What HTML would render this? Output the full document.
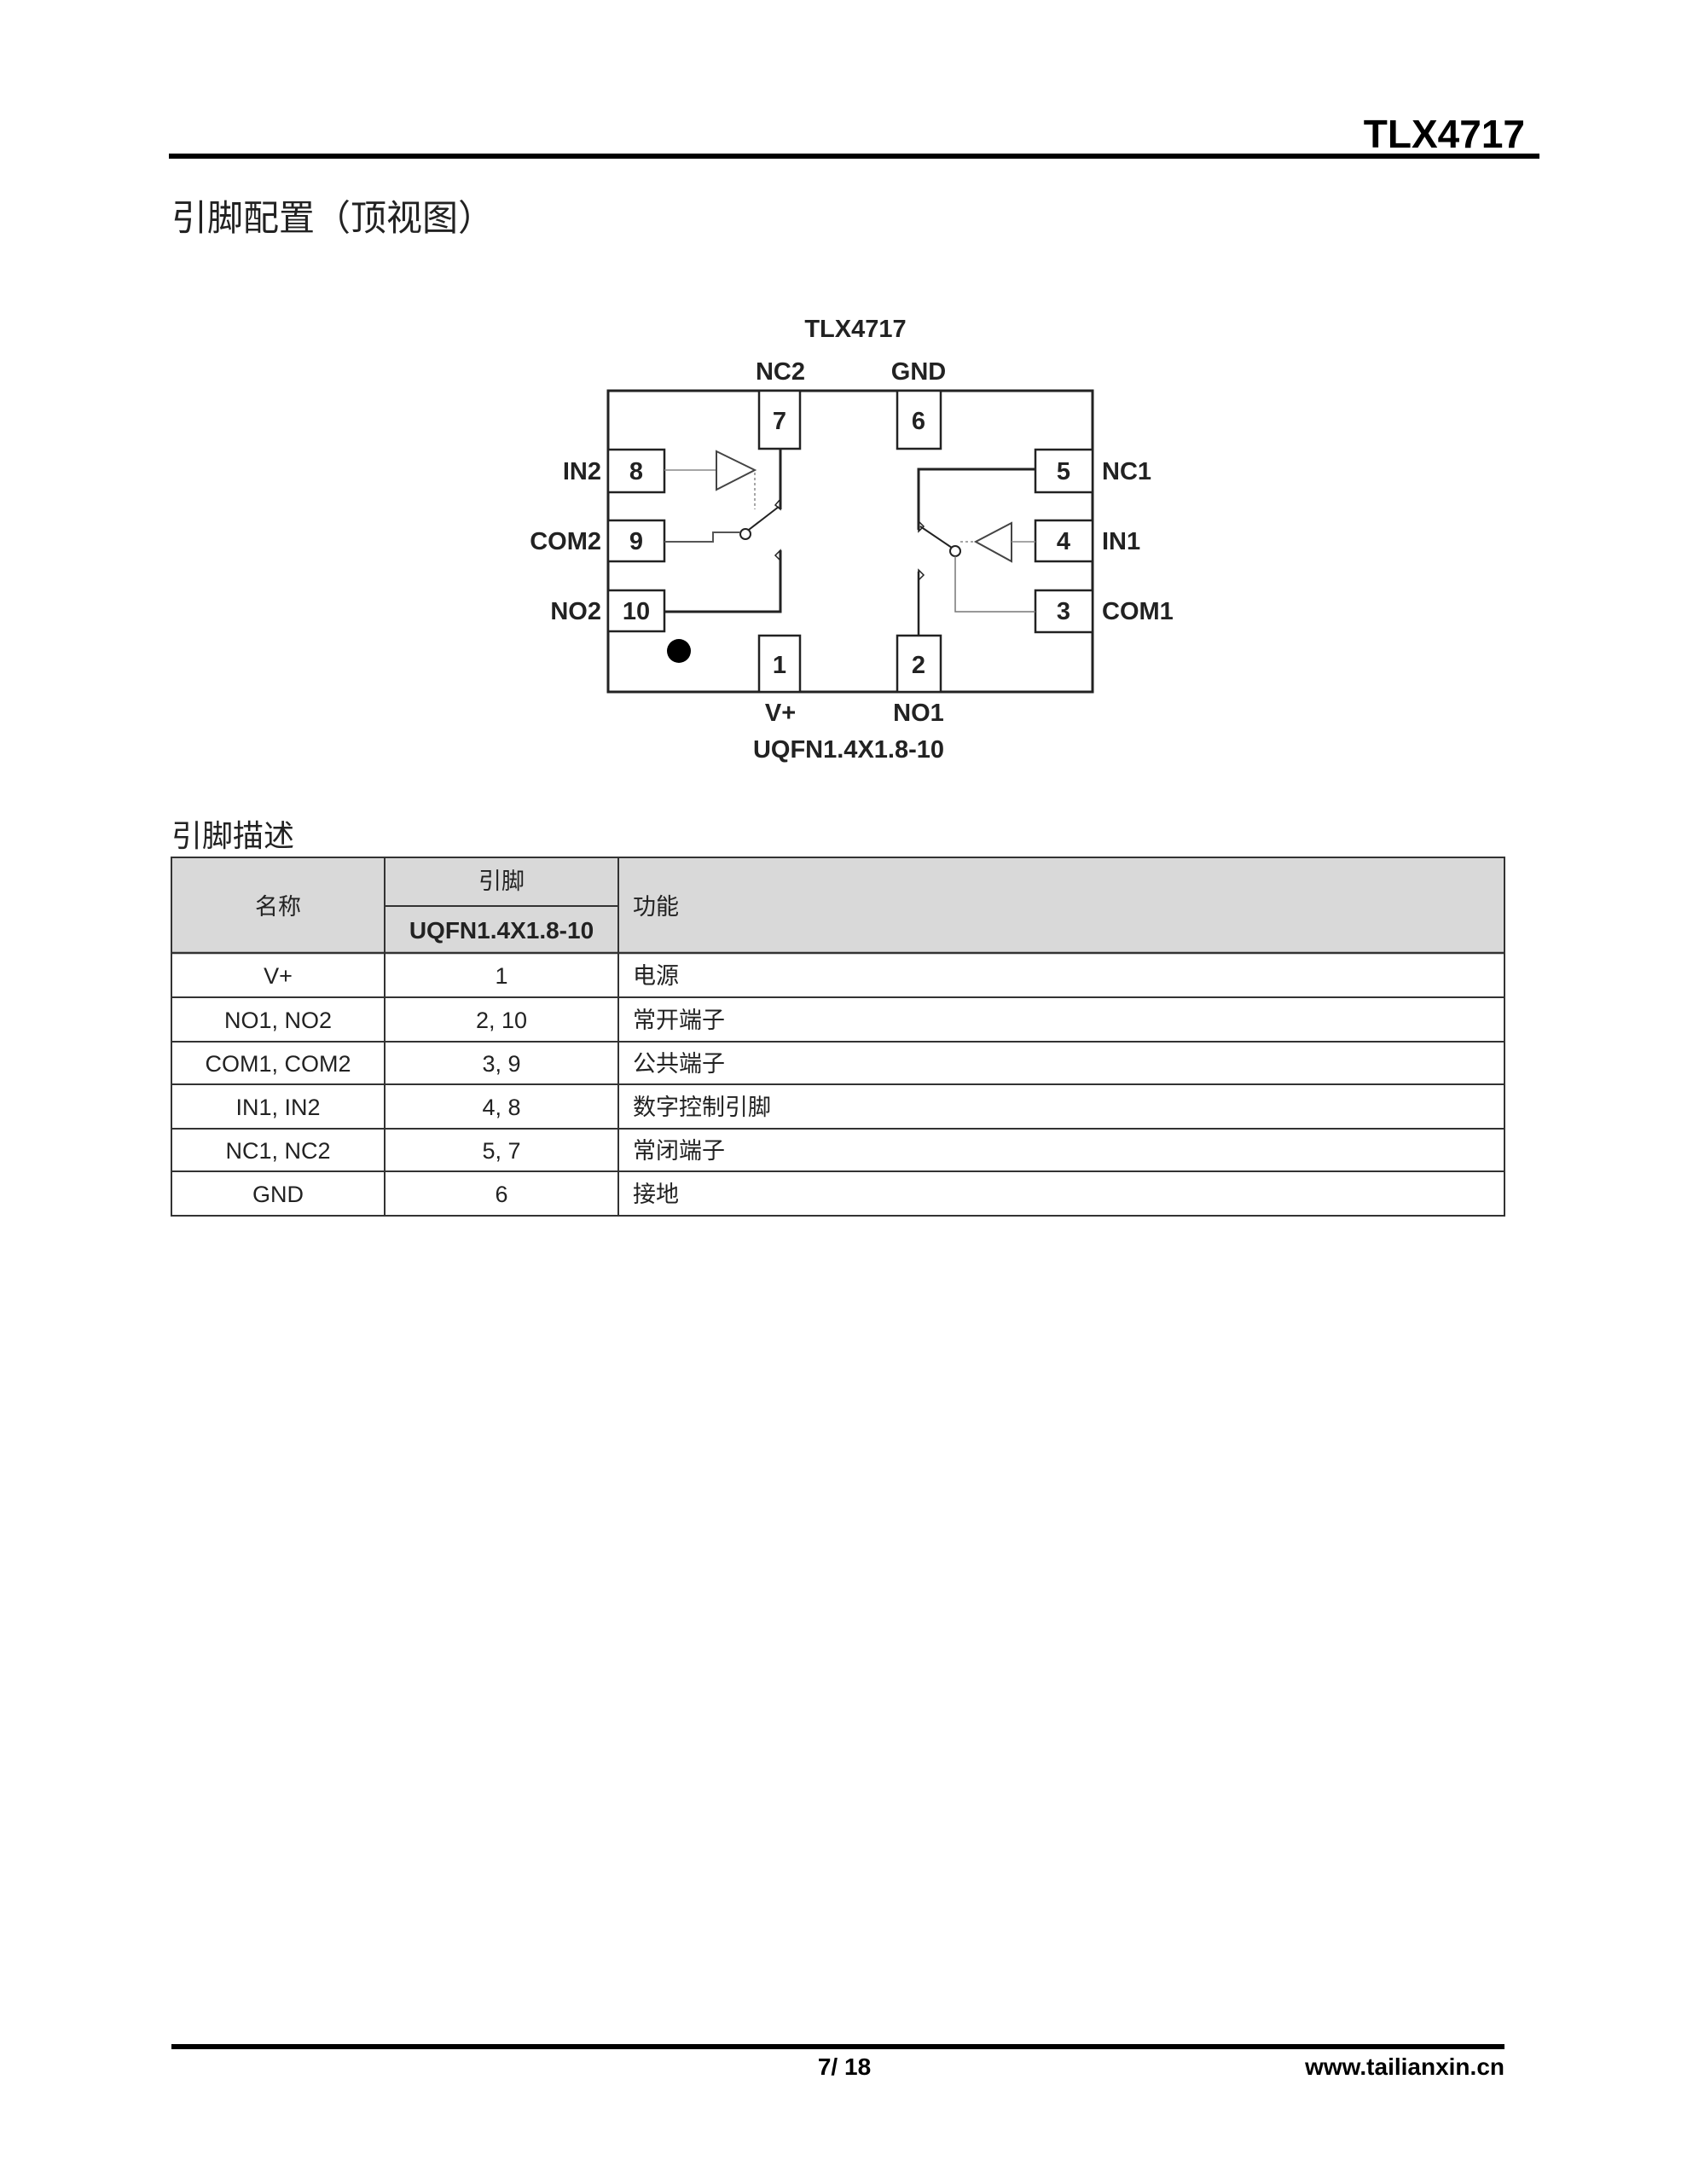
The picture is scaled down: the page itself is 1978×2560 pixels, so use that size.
<!DOCTYPE html>
<html><head><meta charset="utf-8"><style>
html,body{margin:0;padding:0;background:#fff}
svg{display:block}
</style></head><body>
<svg width="1978" height="2560" viewBox="0 0 1978 2560" xmlns="http://www.w3.org/2000/svg" font-family="'Liberation Sans','Noto Sans CJK SC',sans-serif">
<!-- header -->
<text x="1788" y="173" font-size="46" font-weight="bold" text-anchor="end" fill="#000">TLX4717</text>
<rect x="198" y="180" width="1607" height="6" fill="#000"/>
<text x="201" y="270" font-size="42" fill="#222" font-family="'Noto Sans CJK SC',sans-serif">引脚配置（顶视图）</text>

<!-- diagram -->
<g fill="none" stroke="#222">
<rect x="713" y="458" width="568" height="353" stroke-width="3"/>
<rect x="890" y="458" width="48" height="68" stroke-width="2.5" fill="#fff"/>
<rect x="1052" y="458" width="51" height="68" stroke-width="2.5" fill="#fff"/>
<rect x="890" y="745" width="48" height="66" stroke-width="2.5" fill="#fff"/>
<rect x="1052" y="745" width="51" height="66" stroke-width="2.5" fill="#fff"/>
<rect x="713" y="527" width="66" height="50" stroke-width="2.5" fill="#fff"/>
<rect x="713" y="610" width="66" height="48" stroke-width="2.5" fill="#fff"/>
<rect x="713" y="692" width="66" height="48" stroke-width="2.5" fill="#fff"/>
<rect x="1214" y="527" width="67" height="50" stroke-width="2.5" fill="#fff"/>
<rect x="1214" y="610" width="67" height="48" stroke-width="2.5" fill="#fff"/>
<rect x="1214" y="692" width="67" height="49" stroke-width="2.5" fill="#fff"/>
<!-- left switch -->
<line x1="779" y1="551" x2="840" y2="551" stroke="#888" stroke-width="1.5"/>
<polygon points="840,529 885,551 840,574" stroke="#444" stroke-width="2" fill="#fff"/>
<line x1="885" y1="554" x2="885" y2="597" stroke="#888" stroke-width="1.5" stroke-dasharray="3,3"/>
<line x1="915" y1="526" x2="915" y2="597" stroke-width="3"/>
<polygon points="915,585 915,597 909,592" stroke-width="1.5"/>
<line x1="874" y1="624" x2="913" y2="594" stroke-width="2"/>
<circle cx="874" cy="626" r="6" stroke-width="2" fill="#fff"/>
<polyline points="779,635 836,635 836,624 868,624" stroke="#555" stroke-width="2"/>
<polygon points="915,645 915,657 909,651" stroke-width="1.5"/>
<polyline points="915,645 915,717 779,717" stroke-width="3"/>
<!-- right switch -->
<polyline points="1214,550 1077,550 1077,621" stroke-width="3"/>
<polygon points="1077,611 1077,623 1083,617" stroke-width="1.5"/>
<line x1="1079" y1="617" x2="1116" y2="642" stroke-width="2"/>
<circle cx="1120" cy="646" r="6" stroke-width="2" fill="#fff"/>
<line x1="1126" y1="635" x2="1144" y2="635" stroke="#888" stroke-width="1.5" stroke-dasharray="3,3"/>
<polygon points="1186,613 1144,635 1186,658" stroke="#444" stroke-width="2" fill="#fff"/>
<line x1="1186" y1="635" x2="1214" y2="635" stroke="#888" stroke-width="1.5"/>
<polyline points="1120,652 1120,717 1214,717" stroke="#777" stroke-width="1.5"/>
<polygon points="1077,668 1077,680 1083,674" stroke-width="1.5"/>
<line x1="1077" y1="670" x2="1077" y2="745" stroke-width="2.5"/>
</g>
<circle cx="796" cy="763" r="14" fill="#000"/>
<g font-size="29" font-weight="bold" fill="#222" text-anchor="middle">
<text x="1003" y="395">TLX4717</text>
<text x="915" y="445">NC2</text>
<text x="1077" y="445">GND</text>
<text x="914" y="503">7</text>
<text x="1077" y="503">6</text>
<text x="914" y="789">1</text>
<text x="1077" y="789">2</text>
<text x="746" y="562">8</text>
<text x="746" y="644">9</text>
<text x="746" y="726">10</text>
<text x="1247" y="562">5</text>
<text x="1247" y="644">4</text>
<text x="1247" y="726">3</text>
<text x="915" y="845">V+</text>
<text x="1077" y="845">NO1</text>
<text x="995" y="888">UQFN1.4X1.8-10</text>
</g>
<g font-size="29" font-weight="bold" fill="#222" text-anchor="end">
<text x="705" y="562">IN2</text>
<text x="705" y="644">COM2</text>
<text x="705" y="726">NO2</text>
</g>
<g font-size="29" font-weight="bold" fill="#222">
<text x="1292" y="562">NC1</text>
<text x="1292" y="644">IN1</text>
<text x="1292" y="726">COM1</text>
</g>

<!-- table -->
<text x="201" y="992" font-size="36" fill="#222" font-family="'Noto Sans CJK SC',sans-serif">引脚描述</text>
<rect x="201" y="1005" width="1563" height="112" fill="#d9d9d9"/>
<g stroke="#333" stroke-width="2" fill="none">
<rect x="201" y="1005" width="1563" height="420"/>
<line x1="451" y1="1005" x2="451" y2="1425"/>
<line x1="725" y1="1005" x2="725" y2="1425"/>
<line x1="451" y1="1062" x2="725" y2="1062"/>
<line x1="201" y1="1117" x2="1764" y2="1117" stroke-width="2.5"/>
<line x1="201" y1="1169" x2="1764" y2="1169"/>
<line x1="201" y1="1221" x2="1764" y2="1221"/>
<line x1="201" y1="1271" x2="1764" y2="1271"/>
<line x1="201" y1="1323" x2="1764" y2="1323"/>
<line x1="201" y1="1373" x2="1764" y2="1373"/>
</g>
<g font-size="27" fill="#222" text-anchor="middle">
<text x="326" y="1072">名称</text>
<text x="588" y="1042">引脚</text>
<text x="588" y="1100" font-weight="bold" font-size="28">UQFN1.4X1.8-10</text>
<text x="326" y="1153">V+</text><text x="588" y="1153">1</text>
<text x="326" y="1205">NO1, NO2</text><text x="588" y="1205">2, 10</text>
<text x="326" y="1256">COM1, COM2</text><text x="588" y="1256">3, 9</text>
<text x="326" y="1307">IN1, IN2</text><text x="588" y="1307">4, 8</text>
<text x="326" y="1358">NC1, NC2</text><text x="588" y="1358">5, 7</text>
<text x="326" y="1409">GND</text><text x="588" y="1409">6</text>
</g>
<g font-size="27" fill="#222">
<text x="742" y="1072">功能</text>
<text x="742" y="1153">电源</text>
<text x="742" y="1205">常开端子</text>
<text x="742" y="1256">公共端子</text>
<text x="742" y="1307">数字控制引脚</text>
<text x="742" y="1358">常闭端子</text>
<text x="742" y="1409">接地</text>
</g>

<!-- footer -->
<rect x="201" y="2396" width="1563" height="6" fill="#000"/>
<text x="990" y="2432" font-size="28" font-weight="bold" text-anchor="middle" fill="#000">7/ 18</text>
<text x="1764" y="2432" font-size="28" font-weight="bold" text-anchor="end" fill="#000">www.tailianxin.cn</text>
</svg>
</body></html>
